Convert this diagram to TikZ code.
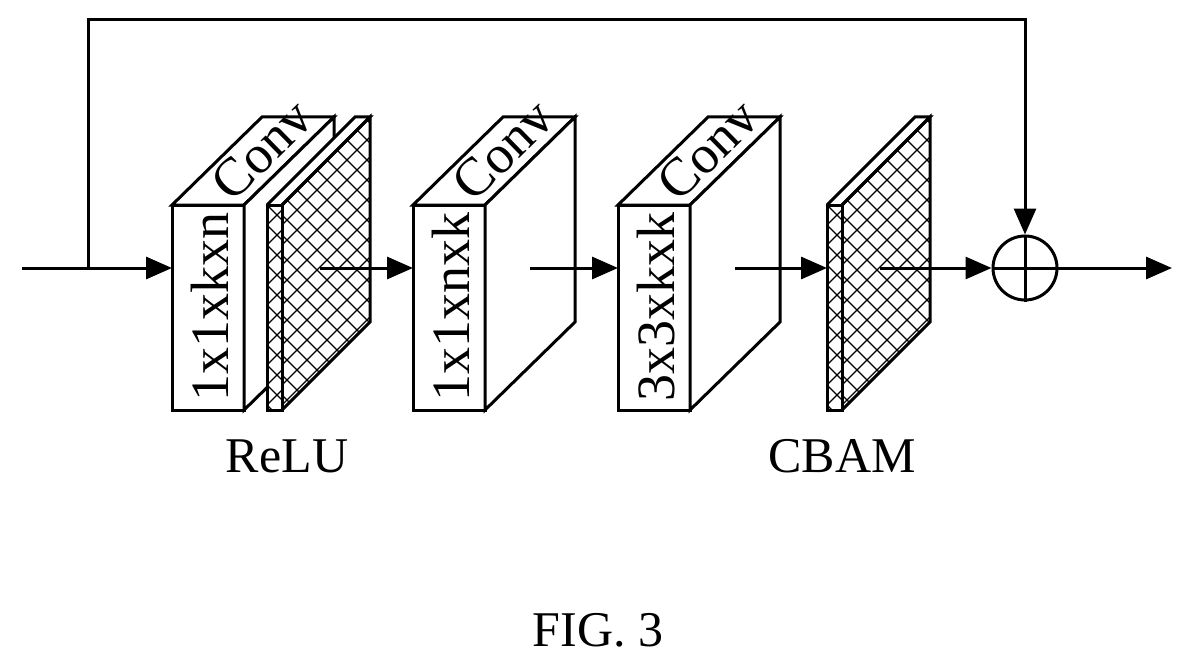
\documentclass[tikz,border=0pt]{standalone}
\usepackage{fontspec}
\setmainfont{Liberation Serif}
\usetikzlibrary{arrows.meta}
\begin{document}
\begin{tikzpicture}[x=1pt,y=-1pt,line width=3pt,line join=miter,
  arr/.style={-{Triangle[length=26pt,width=22pt]}},
  lab/.style={font=\fontsize{50}{50}\selectfont,inner sep=0pt},
  blab/.style={font=\fontsize{54}{54}\selectfont,inner sep=0pt}]
\useasboundingbox (0,0) rectangle (1193,671);
\def\dx{90}\def\dy{-88}
\newcommand\convblock[3]{% x, name, front text
  \draw[fill=white] (#1,205) rectangle (#1+72,410);
  \draw[fill=white] (#1,205) -- (#1+\dx,205+\dy) -- (#1+72+\dx,205+\dy) -- (#1+72,205) -- cycle;
  \draw[fill=white] (#1+72,205) -- (#1+72+\dx,205+\dy) -- (#1+72+\dx,410+\dy) -- (#1+72,410) -- cycle;
  \node[blab,rotate=90] (#2f) at (#1+38,307) {#3};
  \node[blab,rotate=44.4] (#2t) at (#1+90,150) {Conv};
}
\newcommand\hplate[2]{% x of strip left, name
  \fill[white] (#1,205) -- (#1+\dx-2,205+\dy) -- (#1+15+\dx-2,205+\dy) -- (#1+15+\dx-2,410+\dy) -- (#1+15,410) -- (#1,410) -- cycle;
  \begin{scope}
  \clip (#1,205) rectangle (#1+15,410);
  \foreach \i in {-300,-280,...,300} {\draw[line width=1.3pt] (#1+\i,205) -- (#1+\i+220,425); \draw[line width=1.3pt] (#1+\i,425) -- (#1+\i+220,205);}
  \end{scope}
  \begin{scope}
  \clip (#1+15,205) -- (#1+15+\dx-2,205+\dy) -- (#1+15+\dx-2,410+\dy) -- (#1+15,410) -- cycle;
  \foreach \i in {-300,-280,...,400} {\draw[line width=1.3pt] (#1+\i,100) -- (#1+\i+320,420); \draw[line width=1.3pt] (#1+\i,420) -- (#1+\i+320,100);}
  \end{scope}
  \draw (#1,205) rectangle (#1+15,410);
  \draw (#1,205) -- (#1+\dx-2,205+\dy) -- (#1+15+\dx-2,205+\dy) -- (#1+15,205);
  \draw (#1+15,205) -- (#1+15+\dx-2,205+\dy) -- (#1+15+\dx-2,410+\dy) -- (#1+15,410);
  \coordinate (#2) at (#1,268);
}
\convblock{172}{c1}{1x1xkxn}
\hplate{267}{r}
\convblock{413}{c2}{1x1xnxk}
\convblock{618}{c3}{3x3xkxk}
\hplate{827}{cb}
\node[lab] (relu) at (287,456) {ReLU};
\node[lab] (cbam) at (842,456) {CBAM};
\node[lab] (fig) at (598,630) {FIG. 3};
\node[circle,draw,minimum size=64pt,inner sep=0pt] (sum) at (1025,268) {};
\draw (sum.north) -- (sum.south) (sum.west) -- (sum.east);
\coordinate (in) at (22,268);
\coordinate (br) at (88,268);
\coordinate (out) at (1172,268);
\coordinate (c1in) at (172,268);
\coordinate (a1) at (320,268);\coordinate (c2in) at (413,268);
\coordinate (a2) at (530,268);\coordinate (c3in) at (618,268);
\coordinate (a3) at (735,268);
\coordinate (a4) at (880,268);
\draw[arr] (in) -- (c1in);
\draw[arr] (br) -- (88,20) -| (sum.north);
\draw[arr] (a1) -- (c2in);
\draw[arr] (a2) -- (c3in);
\draw[arr] (a3) -- (cb);
\draw[arr] (a4) -- (sum.west);
\draw[arr] (sum.east) -- (out);
\end{tikzpicture}
\end{document}
